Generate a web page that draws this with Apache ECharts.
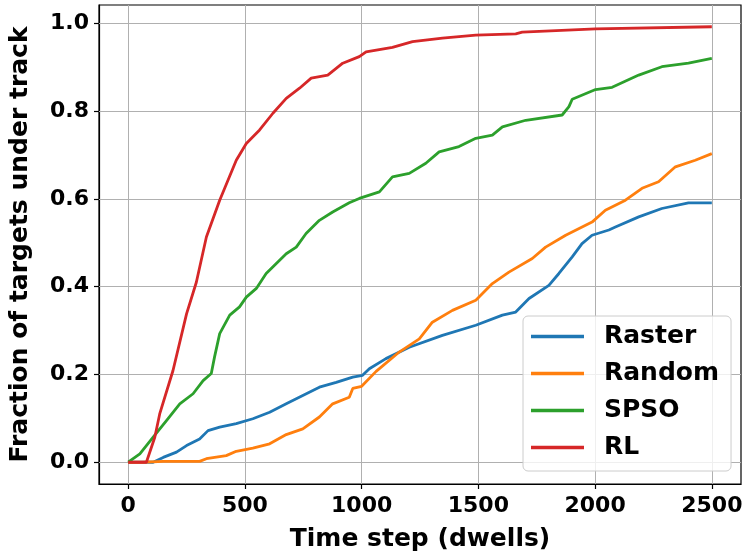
<!DOCTYPE html>
<html>
<head>
<meta charset="utf-8">
<script src="https://cdn.jsdelivr.net/npm/echarts@6/dist/echarts.min.js"></script>
<style>
  html, body { margin: 0; padding: 0; background: #fff; }
  #chart { width: 750px; height: 557px; }
</style>
</head>
<body>
<div id="chart"></div>
<script>
// Fraction of targets under track versus time step, one curve per search strategy.
const seriesNames = ['Raster', 'Random', 'SPSO', 'RL'];
const seriesColors = ['#1f77b4', '#ff7f0e', '#2ca02c', '#d62728'];

const rasterX = [0, 107, 150, 207, 250, 306, 342, 392, 463, 534, 606, 677, 748, 819, 891, 962, 1004, 1033, 1104, 1204, 1346, 1489, 1603, 1660, 1717, 1802, 1845, 1902, 1944, 1987, 2059, 2087, 2187, 2286, 2400, 2500];
const rasterY = [0, 0, 0.011, 0.023, 0.038, 0.053, 0.072, 0.080, 0.088, 0.099, 0.114, 0.133, 0.152, 0.171, 0.182, 0.194, 0.198, 0.213, 0.236, 0.262, 0.289, 0.312, 0.335, 0.342, 0.373, 0.403, 0.430, 0.468, 0.498, 0.517, 0.529, 0.536, 0.559, 0.578, 0.591, 0.591];

const randomX = [0, 60, 150, 306, 335, 420, 463, 534, 606, 677, 748, 819, 876, 947, 962, 1000, 1062, 1161, 1247, 1303, 1389, 1489, 1560, 1631, 1731, 1788, 1874, 1987, 2044, 2130, 2201, 2272, 2344, 2429, 2500];
const randomY = [0, 0, 0.002, 0.002, 0.008, 0.015, 0.025, 0.032, 0.042, 0.063, 0.076, 0.103, 0.133, 0.148, 0.168, 0.173, 0.207, 0.251, 0.281, 0.319, 0.346, 0.369, 0.407, 0.433, 0.464, 0.490, 0.517, 0.547, 0.574, 0.597, 0.624, 0.639, 0.673, 0.688, 0.703];

const spsoX = [0, 50, 107, 164, 221, 278, 321, 356, 370, 392, 435, 477, 506, 549, 591, 677, 720, 762, 819, 876, 947, 990, 1076, 1132, 1204, 1275, 1332, 1417, 1489, 1560, 1603, 1703, 1859, 1888, 1902, 2002, 2073, 2187, 2286, 2400, 2500];
const spsoY = [0, 0.019, 0.057, 0.095, 0.133, 0.156, 0.186, 0.202, 0.240, 0.293, 0.335, 0.354, 0.376, 0.396, 0.430, 0.475, 0.490, 0.521, 0.551, 0.570, 0.591, 0.601, 0.616, 0.650, 0.658, 0.681, 0.707, 0.719, 0.738, 0.745, 0.764, 0.779, 0.791, 0.810, 0.827, 0.849, 0.854, 0.882, 0.901, 0.909, 0.920];

const rlX = [0, 78, 114, 135, 192, 250, 292, 335, 392, 463, 506, 563, 620, 677, 734, 784, 855, 919, 990, 1019, 1132, 1218, 1346, 1489, 1660, 1688, 2002, 2500];
const rlY = [0, 0, 0.057, 0.110, 0.209, 0.338, 0.410, 0.513, 0.597, 0.688, 0.726, 0.757, 0.795, 0.829, 0.852, 0.875, 0.882, 0.909, 0.924, 0.935, 0.945, 0.958, 0.966, 0.973, 0.976, 0.980, 0.987, 0.992];

const xTicks = [0, 500, 1000, 1500, 2000, 2500];
const yTicks = [0, 0.2, 0.4, 0.6, 0.8, 1.0];

const xsList = [rasterX, randomX, spsoX, rlX];
const ysList = [rasterY, randomY, spsoY, rlY];

const FONT = 'DejaVu Sans';
const gridColor = '#b0b0b0';

const chart = echarts.init(document.getElementById('chart'), null, { renderer: 'canvas' });

const lineSeries = seriesNames.map((name, i) => ({
  name: name,
  type: 'line',
  data: xsList[i].map((x, j) => [x, ysList[i][j]]),
  showSymbol: false,
  symbol: 'none',
  lineStyle: { color: seriesColors[i], width: 2.8 },
  itemStyle: { color: seriesColors[i] },
  z: 3 + i,
  animation: false
}));

// grid lines drawn at the tick values
lineSeries.push({
  type: 'line',
  data: [],
  silent: true,
  z: 1,
  markLine: {
    silent: true,
    z: 1,
    symbol: ['none', 'none'],
    label: { show: false },
    animation: false,
    lineStyle: { color: gridColor, width: 1, type: 'solid' },
    data: xTicks.map(v => ({ xAxis: v })).concat(yTicks.map(v => ({ yAxis: v })))
  }
});

chart.setOption({
  animation: false,
  backgroundColor: '#fff',
  grid: {
    left: 99, right: 9, top: 5, bottom: 73,
    show: true, borderColor: '#000', borderWidth: 1.2, backgroundColor: 'transparent'
  },
  legend: {
    data: seriesNames,
    z: 20,
    orient: 'vertical',
    left: 523, top: 316,
    icon: 'rect',
    itemWidth: 53, itemHeight: 3.5,
    itemGap: 12,
    padding: [8, 12, 11, 8],
    backgroundColor: 'rgba(255,255,255,0.8)',
    borderColor: '#cccccc', borderWidth: 1, borderRadius: 5,
    textStyle: {
      fontFamily: FONT, fontWeight: 'bold', fontSize: 25, color: '#000',
      lineHeight: 25, padding: [0, 0, 0, 15]
    }
  },
  xAxis: {
    type: 'value',
    min: -125, max: 2625,
    name: 'Time step (dwells)',
    nameLocation: 'middle',
    nameGap: 43,
    nameTextStyle: { fontFamily: FONT, fontWeight: 'bold', fontSize: 25, color: '#000' },
    axisLine: { show: true, onZero: false, lineStyle: { color: '#000', width: 1.2 } },
    axisTick: { show: true, length: 5, lineStyle: { color: '#000', width: 1.2 }, customValues: xTicks },
    axisLabel: {
      customValues: xTicks, margin: 11,
      fontFamily: FONT, fontWeight: 'bold', fontSize: 22, color: '#000',
      formatter: v => String(v)
    },
    splitLine: { show: false }
  },
  yAxis: {
    type: 'value',
    min: -0.0496, max: 1.0416,
    name: 'Fraction of targets under track',
    nameLocation: 'middle',
    nameGap: 66,
    nameTextStyle: { fontFamily: FONT, fontWeight: 'bold', fontSize: 25, color: '#000' },
    axisLine: { show: true, onZero: false, lineStyle: { color: '#000', width: 1.2 } },
    axisTick: { show: true, length: 5, lineStyle: { color: '#000', width: 1.2 }, customValues: yTicks },
    axisLabel: {
      customValues: yTicks, margin: 10,
      fontFamily: FONT, fontWeight: 'bold', fontSize: 22, color: '#000',
      formatter: v => v.toFixed(1)
    },
    splitLine: { show: false }
  },
  series: lineSeries
});
</script>
</body>
</html>
